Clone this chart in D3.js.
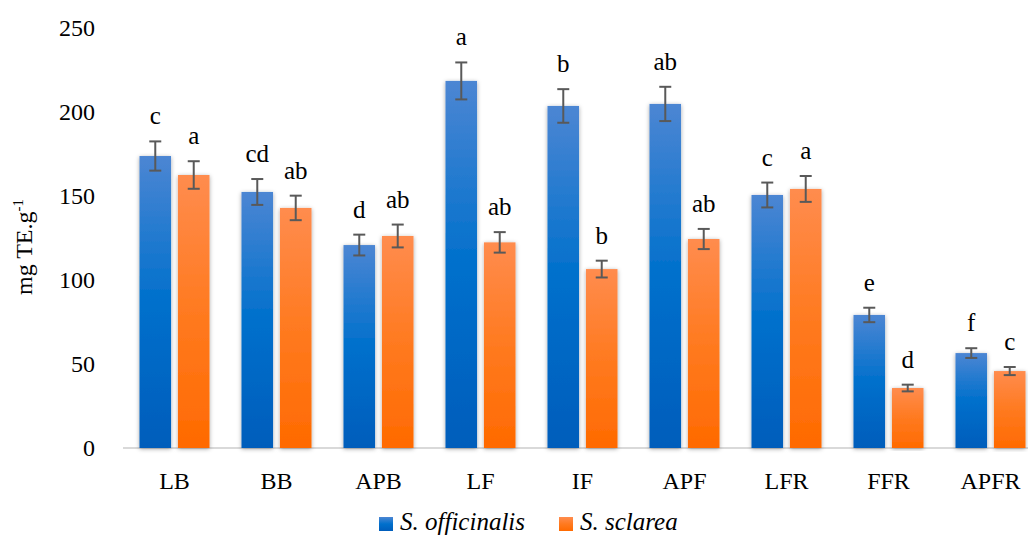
<!DOCTYPE html>
<html>
<head>
<meta charset="utf-8">
<script src="https://cdn.jsdelivr.net/npm/d3@7"></script>
<style>
  html, body { margin: 0; padding: 0; background: #fff; }
  svg { display: block; font-family: "Liberation Serif", "Times New Roman", serif; }
</style>
</head>
<body>
<svg id="chart" width="1028" height="536"></svg>
<script>
// Plant parts
const categories = ["LB", "BB", "APB", "LF", "IF", "APF", "LFR", "FFR", "APFR"];

// Antioxidant activity, mg TE.g-1 (mean ± SD)
const officinalisValues = [173.8, 152.4, 120.8, 218.5, 203.6, 204.8, 150.6, 79.2, 56.5];
const officinalisErrors = [8.7, 7.7, 6.2, 11.0, 10.0, 10.2, 7.4, 4.3, 2.9];
const sclareaValues = [162.5, 142.9, 126.2, 122.4, 106.5, 124.4, 154.2, 35.7, 45.8];
const sclareaErrors = [8.2, 7.3, 6.8, 6.1, 5.0, 6.0, 7.7, 2.0, 2.4];

// Significance letters
const officinalisLetters = ["c", "cd", "d", "a", "b", "ab", "c", "e", "f"];
const sclareaLetters = ["a", "ab", "ab", "ab", "b", "ab", "a", "d", "c"];

const seriesNames = ["S. officinalis", "S. sclarea"];
const yTicks = [0, 50, 100, 150, 200, 250];

const series = [
  { key: "so", name: seriesNames[0], values: officinalisValues, errors: officinalisErrors, letters: officinalisLetters, grad: "gBlue" },
  { key: "ss", name: seriesNames[1], values: sclareaValues, errors: sclareaErrors, letters: sclareaLetters, grad: "gOrange" }
];

const FONT = "Liberation Serif";

const svg = d3.select("#chart");
const defs = svg.append("defs");

function gradient(id, stops) {
  const g = defs.append("linearGradient").attr("id", id)
    .attr("x1", 0).attr("y1", 0).attr("x2", 0).attr("y2", 1);
  stops.forEach(([o, c]) => g.append("stop").attr("offset", o).attr("stop-color", c));
}
gradient("gBlue", [[0, "#4c86d3"], [0.5, "#0070cc"], [1, "#005dbb"]]);
gradient("gOrange", [[0, "#ff8c4e"], [0.5, "#ff7a20"], [1, "#ff6a00"]]);

const shadow = defs.append("filter").attr("id", "barShadow")
  .attr("x", "-30%").attr("y", "-5%").attr("width", "160%").attr("height", "110%");
shadow.append("feDropShadow").attr("dx", 0).attr("dy", 1)
  .attr("stdDeviation", 2.2).attr("flood-color", "#000").attr("flood-opacity", 0.35);

const y = d3.scaleLinear().domain([0, 250]).range([448, 28]);
const x = d3.scaleBand().domain(categories).range([123.5, 1041.5]).padding(0);
const xs = d3.scaleBand().domain(series.map(s => s.key)).range([16, 86]).paddingInner(0.18);

// y-axis tick labels (no axis line, no tick marks)
const yAxis = svg.append("g").attr("transform", "translate(98,0)")
  .call(d3.axisLeft(y).tickValues(yTicks).tickSize(0).tickPadding(3));
yAxis.attr("font-family", FONT);
yAxis.select(".domain").remove();
yAxis.selectAll("text").attr("font-size", 24).attr("fill", "#000");

// baseline
svg.append("line").attr("x1", 123).attr("x2", 1028).attr("y1", y(0)).attr("y2", y(0))
  .attr("stroke", "#d9d9d9").attr("stroke-width", 2);

// x-axis labels
const xAxis = svg.append("g").attr("transform", `translate(0,${y(0)})`)
  .call(d3.axisBottom(x).tickSize(0).tickPadding(24));
xAxis.attr("font-family", FONT);
xAxis.select(".domain").remove();
xAxis.selectAll("text").attr("font-size", 24).attr("fill", "#000");

// bars
const groups = svg.append("g").attr("font-family", FONT).selectAll("g").data(categories).join("g")
  .attr("transform", d => `translate(${x(d)},0)`);

series.forEach(s => {
  groups.append("rect")
    .attr("x", xs(s.key))
    .attr("y", (d, i) => y(s.values[i]))
    .attr("width", xs.bandwidth())
    .attr("height", (d, i) => y(0) - y(s.values[i]))
    .attr("fill", `url(#${s.grad})`)
    .attr("filter", "url(#barShadow)");
});

// error bars and letters
series.forEach(s => {
  const cx = xs(s.key) + xs.bandwidth() / 2;
  const eb = groups.append("g").attr("stroke", "#595959").attr("stroke-width", 2).attr("fill", "none");
  eb.append("line").attr("x1", cx).attr("x2", cx)
    .attr("y1", (d, i) => y(s.values[i] + s.errors[i]))
    .attr("y2", (d, i) => y(s.values[i] - s.errors[i]));
  eb.append("line").attr("x1", cx - 6).attr("x2", cx + 6)
    .attr("y1", (d, i) => y(s.values[i] + s.errors[i]))
    .attr("y2", (d, i) => y(s.values[i] + s.errors[i]));
  eb.append("line").attr("x1", cx - 6).attr("x2", cx + 6)
    .attr("y1", (d, i) => y(s.values[i] - s.errors[i]))
    .attr("y2", (d, i) => y(s.values[i] - s.errors[i]));

  groups.append("text")
    .attr("x", cx)
    .attr("y", (d, i) => y(s.values[i] + s.errors[i]) - 17)
    .attr("text-anchor", "middle")
    .attr("font-size", 25)
    .attr("fill", "#000")
    .text((d, i) => s.letters[i]);
});

// y-axis title
const yTitle = svg.append("text")
  .attr("transform", "translate(32,247) rotate(-90)")
  .attr("text-anchor", "middle")
  .attr("font-family", FONT)
  .attr("font-size", 24)
  .attr("fill", "#000");
yTitle.append("tspan").text("mg TE.g");
yTitle.append("tspan").attr("font-size", 15).attr("dy", -9).text("-1");

// legend
const legendX = [379, 559];
const legend = svg.append("g").attr("font-family", FONT).selectAll("g").data(series).join("g")
  .attr("transform", (d, i) => `translate(${legendX[i]},517)`);
legend.append("rect").attr("width", 14).attr("height", 14).attr("fill", d => `url(#${d.grad})`);
legend.append("text").attr("x", 21).attr("y", 12.5)
  .attr("font-size", 25).attr("font-style", "italic").attr("fill", "#000")
  .text(d => d.name);
</script>
</body>
</html>
